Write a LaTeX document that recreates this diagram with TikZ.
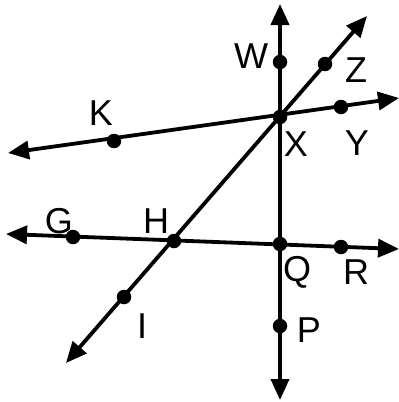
\documentclass[tikz,border=0pt]{standalone}
\usepackage{fontspec}
\setmainfont{Liberation Sans}
\usetikzlibrary{arrows.meta}
\begin{document}
\begin{tikzpicture}[x=1pt,y=-1pt,
  ln/.style={line width=3.8pt,{Triangle[length=21pt,width=18pt]}-{Triangle[length=21pt,width=18pt]}},
  pt/.style={circle,fill=black,inner sep=0pt,minimum size=14.5pt},
  lbl/.style={inner sep=0pt,font=\fontsize{36}{42}\selectfont}]
\useasboundingbox (0,0) rectangle (399,402);
% arrow ends
\coordinate (vT) at (280,4);
\coordinate (vB) at (280,400);
\coordinate (kL) at (8,153);
\coordinate (kR) at (399,98);
\coordinate (gL) at (6,234);
\coordinate (gR) at (399,249);
\coordinate (dT) at (367,16);
\coordinate (dB) at (66,363);
\draw[ln] (vB) -- (vT);
\draw[ln] (kL) -- (kR);
\draw[ln] (gL) -- (gR);
\draw[ln] (dB) -- (dT);
% points
\node[pt] (W) at (280,62) {};
\node[pt] (X) at (280,117) {};
\node[pt] (Q) at (280,244) {};
\node[pt] (P) at (280,326) {};
\node[pt] (K) at (114,141) {};
\node[pt] (Y) at (341,107) {};
\node[pt] (G) at (73,237) {};
\node[pt] (H) at (174,241) {};
\node[pt] (R) at (341,247) {};
\node[pt] (Z) at (325,64) {};
\node[pt] (I) at (124,297) {};
% labels
\node[lbl] (lW) at (251,56) {W};
\node[lbl] (lZ) at (356,70) {Z};
\node[lbl] (lK) at (101,113) {K};
\node[lbl] (lX) at (296,144) {X};
\node[lbl] (lY) at (357,143) {Y};
\node[lbl] (lG) at (59,221) {G};
\node[lbl] (lH) at (156,221) {H};
\node[lbl] (lQ) at (297,272) {Q};
\node[lbl] (lR) at (356,272) {R};
\node[lbl] (lI) at (142,326) {I};
\node[lbl] (lP) at (309,330) {P};
\end{tikzpicture}
\end{document}
